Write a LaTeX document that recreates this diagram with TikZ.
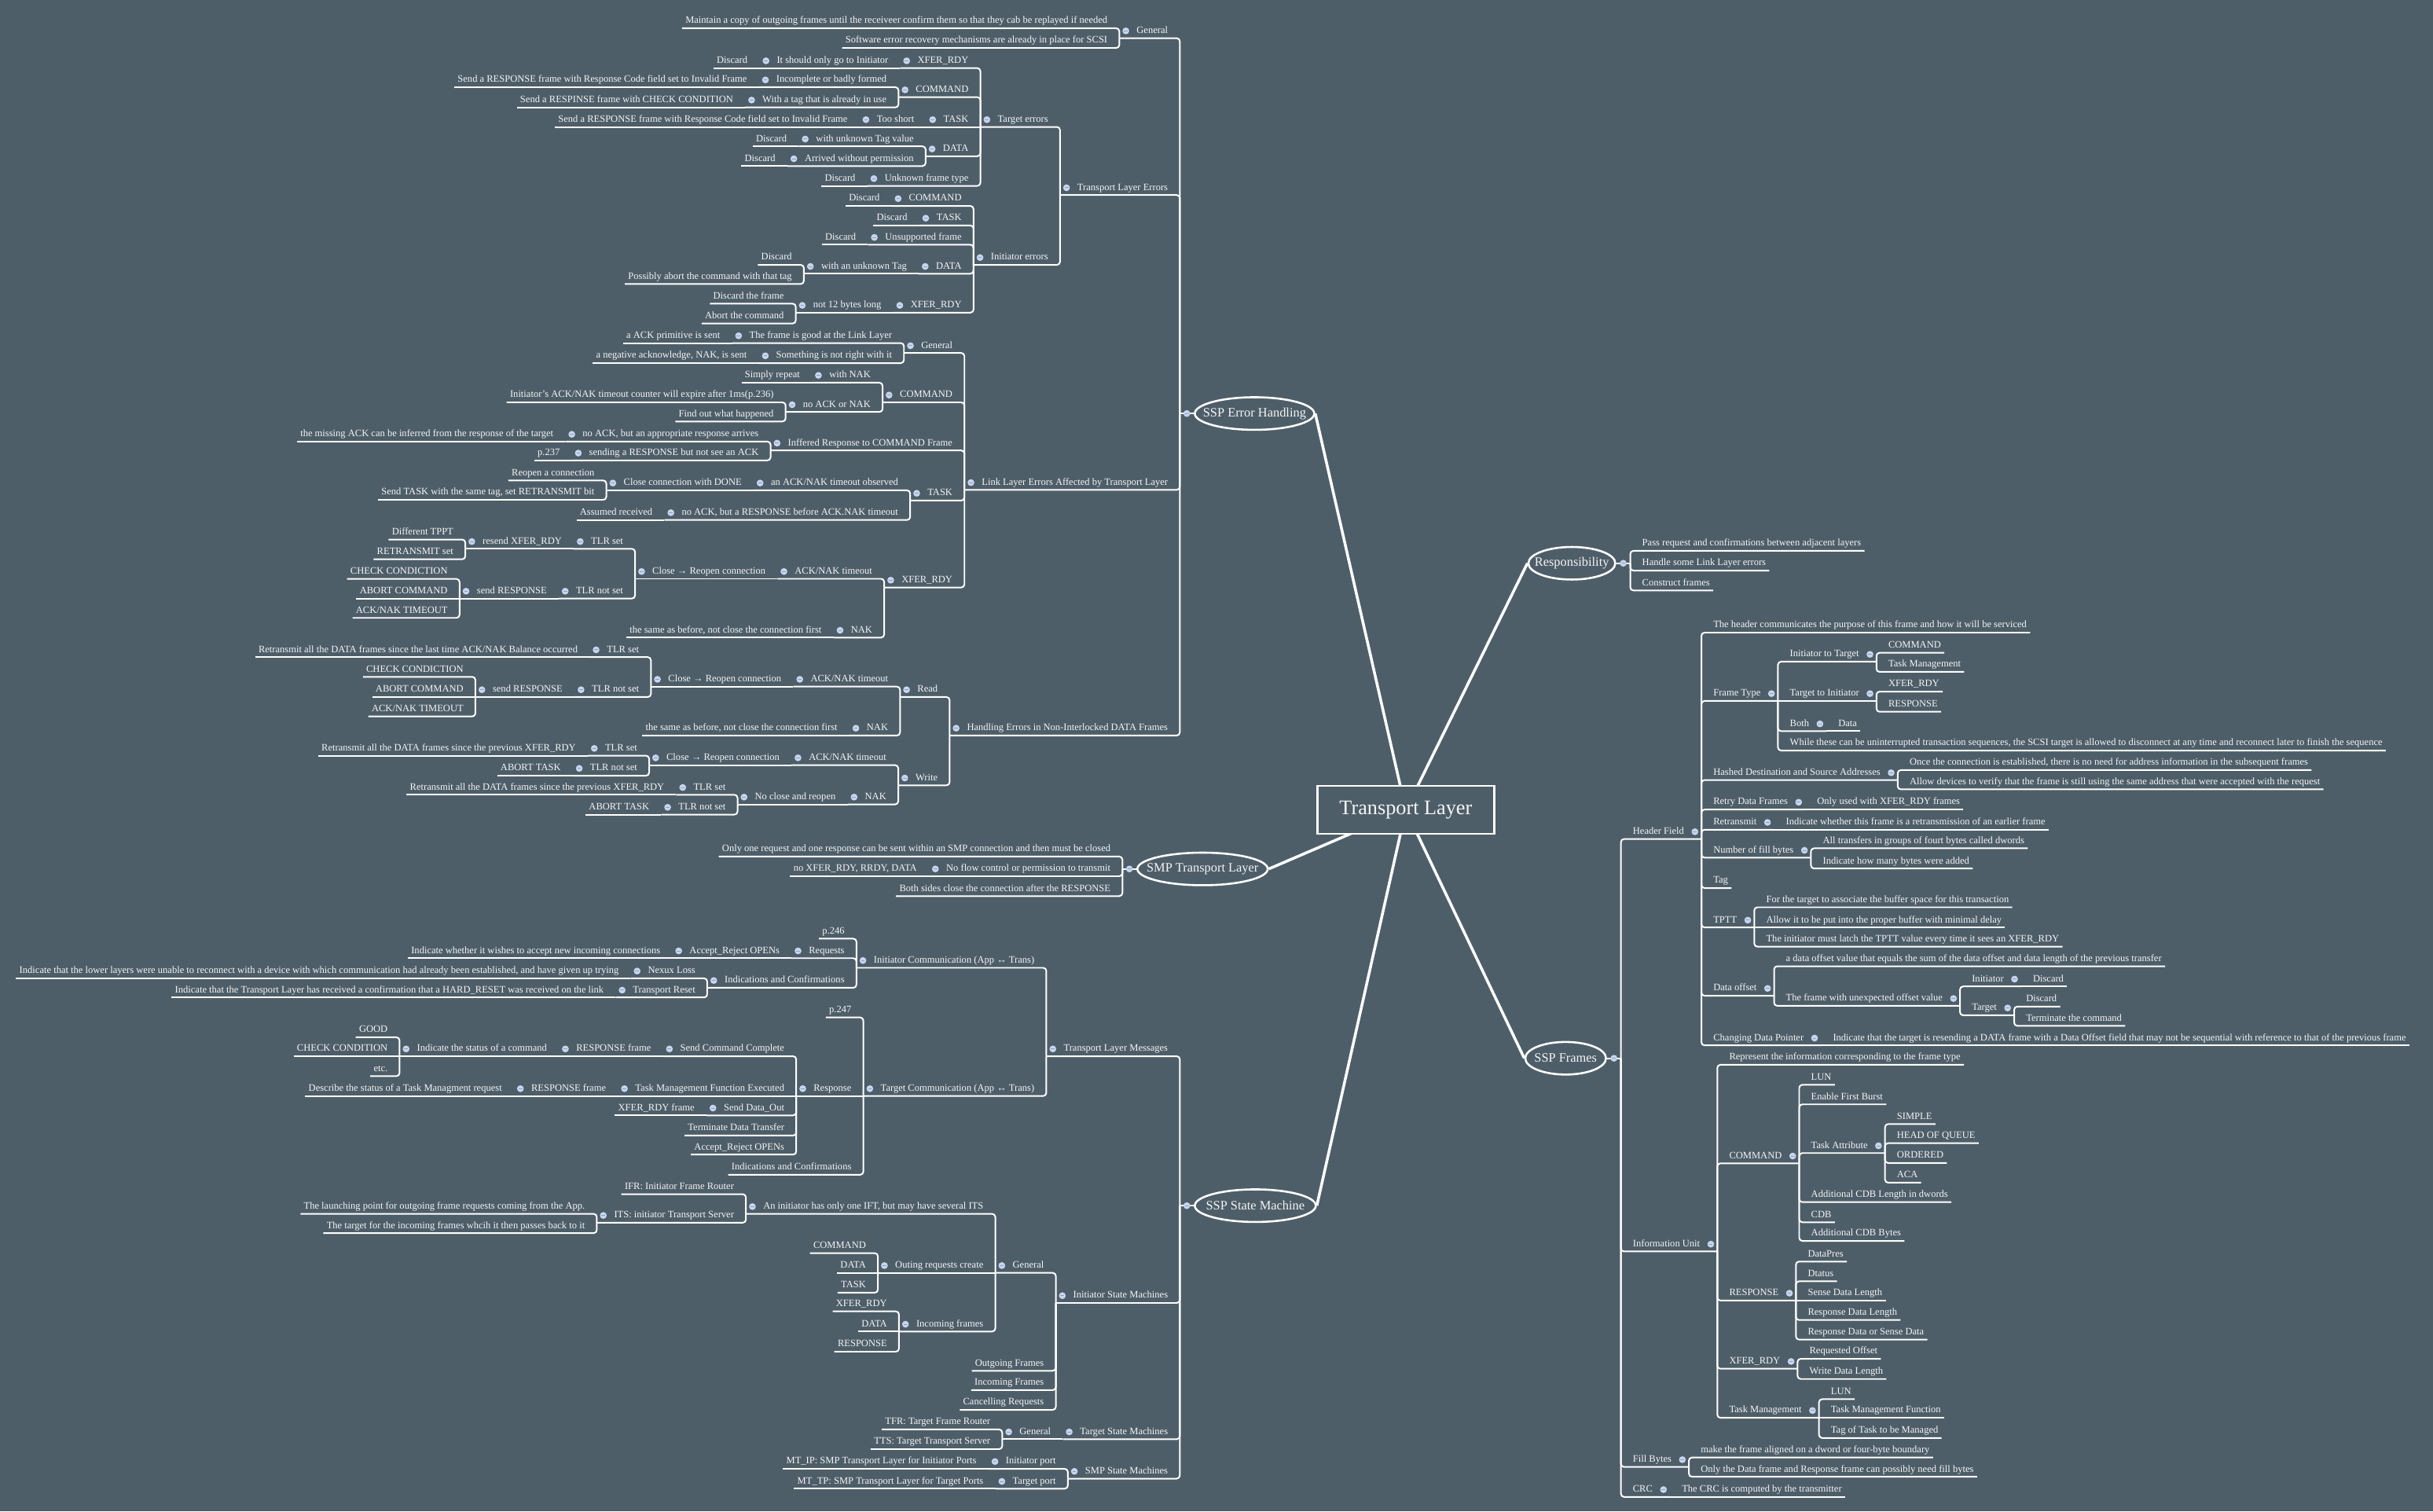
\documentclass[tikz,border=0pt]{standalone}
\usepackage{fontspec}
\setmainfont{Liberation Serif}
\usetikzlibrary{shapes.geometric}
\definecolor{slate}{HTML}{4E5E69}
\definecolor{bubble}{HTML}{C8D5EE}
\definecolor{bubbleink}{HTML}{8CA2C2}
\definecolor{paper}{HTML}{F4F4F4}
\newcommand{\leaffont}{\fontsize{6.35}{7}\selectfont}
\newcommand{\mmdot}[1]{\fill[bubble] (#1) circle (2.2pt); \draw[bubbleink,line width=.45pt] (#1) ++(-1.2pt,0) -- ++(2.4pt,0);}
\tikzset{
  txt/.style={font=\leaffont,text=paper,fill=slate,inner xsep=2pt,inner ysep=1.5pt,text height=4.6pt,text depth=1.4pt},
  tl/.style={txt,anchor=east,xshift=-5.5pt},
  tlp/.style={tl,execute at begin node={\hspace*{9pt}},path picture={\mmdot{[xshift=4pt]path picture bounding box.west}}},
  tr/.style={txt,anchor=west,xshift=5.5pt},
  trp/.style={tr,execute at end node={\hspace*{9pt}},path picture={\mmdot{[xshift=-4pt]path picture bounding box.east}}},
  branch/.style={ellipse,draw=white,fill=slate,line width=1.3pt,inner sep=0pt,minimum height=21pt,font=\fontsize{8.3}{10}\selectfont,text=paper},
  core/.style={draw=white,fill=slate,line width=1.2pt,minimum width=114pt,minimum height=31pt,inner sep=0pt,font=\fontsize{13.3}{16}\selectfont,text=paper},
  ln/.style={draw=white,line width=1pt,rounded corners=2pt},
  trunk/.style={draw=white,line width=1.8pt},
}

\begin{document}
\begin{tikzpicture}[x=1pt,y=-1pt]
  \useasboundingbox (0,0) rectangle (1568,974);
  \fill[slate] (0,0) rectangle (1568,974);
  \coordinate (Tc) at (906,522);
  \node[branch,minimum width=77pt] (E) at (808.5,266.5) {\makebox[0pt]{SSP Error Handling}};
  \node[branch,minimum width=84pt] (M) at (775,560) {\makebox[0pt]{SMP Transport Layer}};
  \node[branch,minimum width=78pt] (S) at (809,777) {\makebox[0pt]{SSP State Machine}};
  \node[branch,minimum width=56pt] (R) at (1013,363) {\makebox[0pt]{Responsibility}};
  \node[branch,minimum width=52pt] (F) at (1009,682) {\makebox[0pt]{SSP Frames}};
  \foreach \e/\a in {E/east,M/east,S/east,R/west,F/west}
    \draw[trunk] (Tc) -- (\e.\a);
  \node[core] (T) at (Tc) {Transport Layer};
  \coordinate (Eb) at ([xshift=-9pt]E.west);
  \coordinate (Mb) at ([xshift=-9pt]M.west);
  \coordinate (Sb) at ([xshift=-9pt]S.west);
  \coordinate (Rb) at ([xshift=9pt]R.east);
  \coordinate (Fb) at ([xshift=9pt]F.east);

  \node[tlp] (E1) at (Eb |- 0,19.9) {General};
  \node[tl] (E1a) at (E1.west |- 0,13.5) {Maintain a copy of outgoing frames until the receiveer confirm them so that they cab be replayed if needed};
  \node[tl] (E1b) at (E1.west |- 0,26.2) {Software error recovery mechanisms are already in place for SCSI};
  \node[tlp] (E2) at (Eb |- 0,121) {Transport Layer Errors};
  \node[tlp] (E2a) at (E2.west |- 0,77.1) {Target errors};
  \node[tlp] (E2a1) at (E2a.west |- 0,39.2) {XFER\_RDY};
  \node[tlp] (E2a1a) at (E2a1.west |- 0,39.2) {It should only go to Initiator};
  \node[tl] (E2a1a1) at (E2a1a.west |- 0,39.2) {Discard};
  \node[tlp] (E2a2) at (E2a.west |- 0,57.9) {COMMAND};
  \node[tlp] (E2a2a) at (E2a2.west |- 0,51.5) {Incomplete or badly formed};
  \node[tl] (E2a2a1) at (E2a2a.west |- 0,51.5) {Send a RESPONSE frame with Response Code field set to Invalid Frame};
  \node[tlp] (E2a2b) at (E2a2.west |- 0,64.5) {With a tag that is already in use};
  \node[tl] (E2a2b1) at (E2a2b.west |- 0,64.5) {Send a RESPINSE frame with CHECK CONDITION};
  \node[tlp] (E2a3) at (E2a.west |- 0,77.1) {TASK};
  \node[tlp] (E2a3a) at (E2a3.west |- 0,77.1) {Too short};
  \node[tl] (E2a3a1) at (E2a3a.west |- 0,77.1) {Send a RESPONSE frame with Response Code field set to Invalid Frame};
  \node[tlp] (E2a4) at (E2a.west |- 0,96) {DATA};
  \node[tlp] (E2a4a) at (E2a4.west |- 0,89.6) {with unknown Tag value};
  \node[tl] (E2a4a1) at (E2a4a.west |- 0,89.6) {Discard};
  \node[tlp] (E2a4b) at (E2a4.west |- 0,102.3) {Arrived without permission};
  \node[tl] (E2a4b1) at (E2a4b.west |- 0,102.3) {Discard};
  \node[tlp] (E2a5) at (E2a.west |- 0,115.1) {Unknown frame type};
  \node[tl] (E2a5a) at (E2a5.west |- 0,115.1) {Discard};
  \node[tlp] (E2b) at (E2.west |- 0,166) {Initiator errors};
  \node[tlp] (E2b1) at (E2b.west |- 0,128) {COMMAND};
  \node[tl] (E2b1a) at (E2b1.west |- 0,128) {Discard};
  \node[tlp] (E2b2) at (E2b.west |- 0,140.6) {TASK};
  \node[tl] (E2b2a) at (E2b2.west |- 0,140.6) {Discard};
  \node[tlp] (E2b3) at (E2b.west |- 0,153) {Unsupported frame};
  \node[tl] (E2b3a) at (E2b3.west |- 0,153) {Discard};
  \node[tlp] (E2b4) at (E2b.west |- 0,171.7) {DATA};
  \node[tlp] (E2b4a) at (E2b4.west |- 0,171.7) {with an unknown Tag};
  \node[tl] (E2b4a1) at (E2b4a.west |- 0,166) {Discard};
  \node[tl] (E2b4a2) at (E2b4a.west |- 0,178.3) {Possibly abort the command with that tag};
  \node[tlp] (E2b5) at (E2b.west |- 0,196.8) {XFER\_RDY};
  \node[tlp] (E2b5a) at (E2b5.west |- 0,196.8) {not 12 bytes long};
  \node[tl] (E2b5a1) at (E2b5a.west |- 0,191) {Discard the frame};
  \node[tl] (E2b5a2) at (E2b5a.west |- 0,203.8) {Abort the command};
  \node[tlp] (E3) at (Eb |- 0,311) {Link Layer Errors Affected by Transport Layer};
  \node[tlp] (E3a) at (E3.west |- 0,222.8) {General};
  \node[tlp] (E3a1) at (E3a.west |- 0,216.4) {The frame is good at the Link Layer};
  \node[tl] (E3a1a) at (E3a1.west |- 0,216.4) {a ACK primitive is sent};
  \node[tlp] (E3a2) at (E3a.west |- 0,229.3) {Something is not right with it};
  \node[tl] (E3a2a) at (E3a2.west |- 0,229.3) {a negative acknowledge, NAK, is sent};
  \node[tlp] (E3b) at (E3.west |- 0,254.6) {COMMAND};
  \node[tlp] (E3b1) at (E3b.west |- 0,241.9) {with NAK};
  \node[tl] (E3b1a) at (E3b1.west |- 0,241.9) {Simply repeat};
  \node[tlp] (E3b2) at (E3b.west |- 0,260.8) {no ACK or NAK};
  \node[tl] (E3b2a) at (E3b2.west |- 0,254.6) {Initiator's ACK/NAK timeout counter will expire after 1ms(p.236)};
  \node[tl] (E3b2b) at (E3b2.west |- 0,266.9) {Find out what happened};
  \node[tlp] (E3c) at (E3.west |- 0,285.6) {Inffered Response to COMMAND Frame};
  \node[tlp] (E3c1) at (E3c.west |- 0,279.9) {no ACK, but an appropriate response arrives};
  \node[tl] (E3c1a) at (E3c1.west |- 0,279.9) {the missing ACK can be inferred from the response of the target};
  \node[tlp] (E3c2) at (E3c.west |- 0,292) {sending a RESPONSE but not see an ACK};
  \node[tl] (E3c2a) at (E3c2.west |- 0,292) {p.237};
  \node[tlp] (E3d) at (E3.west |- 0,317.9) {TASK};
  \node[tlp] (E3d1) at (E3d.west |- 0,311.3) {an ACK/NAK timeout observed};
  \node[tlp] (E3d1a) at (E3d1.west |- 0,311.3) {Close connection with DONE};
  \node[tl] (E3d1a1) at (E3d1a.west |- 0,304.9) {Reopen a connection};
  \node[tl] (E3d1a2) at (E3d1a.west |- 0,317.4) {Send TASK with the same tag, set RETRANSMIT bit};
  \node[tlp] (E3d2) at (E3d.west |- 0,330.4) {no ACK, but a RESPONSE before ACK.NAK timeout};
  \node[tl] (E3d2a) at (E3d2.west |- 0,330.4) {Assumed received};
  \node[tlp] (E3e) at (E3.west |- 0,373.9) {XFER\_RDY};
  \node[tlp] (E3e1) at (E3e.west |- 0,368.3) {ACK/NAK timeout};
  \node[tlp] (E3e1a) at (E3e1.west |- 0,368.3) {Close → Reopen connection};
  \node[tlp] (E3e1a1) at (E3e1a.west |- 0,349) {TLR set};
  \node[tlp] (E3e1a1a) at (E3e1a1.west |- 0,349) {resend XFER\_RDY};
  \node[tl] (E3e1a1a1) at (E3e1a1a.west |- 0,343) {Different TPPT};
  \node[tl] (E3e1a1a2) at (E3e1a1a.west |- 0,355.7) {RETRANSMIT set};
  \node[tlp] (E3e1a2) at (E3e1a.west |- 0,381) {TLR not set};
  \node[tlp] (E3e1a2a) at (E3e1a2.west |- 0,381) {send RESPONSE};
  \node[tl] (E3e1a2a1) at (E3e1a2a.west |- 0,368.4) {CHECK CONDICTION};
  \node[tl] (E3e1a2a2) at (E3e1a2a.west |- 0,381) {ABORT COMMAND};
  \node[tl] (E3e1a2a3) at (E3e1a2a.west |- 0,393.5) {ACK/NAK TIMEOUT};
  \node[tlp] (E3e2) at (E3e.west |- 0,406.2) {NAK};
  \node[tl] (E3e2a) at (E3e2.west |- 0,406.2) {the same as before, not close the connection first};
  \node[tlp] (E4) at (Eb |- 0,469.3) {Handling Errors in Non-Interlocked DATA Frames};
  \node[tlp] (E4a) at (E4.west |- 0,444.5) {Read};
  \node[tlp] (E4a1) at (E4a.west |- 0,437.8) {ACK/NAK timeout};
  \node[tlp] (E4a1a) at (E4a1.west |- 0,437.8) {Close → Reopen connection};
  \node[tlp] (E4a1a1) at (E4a1a.west |- 0,418.8) {TLR set};
  \node[tl] (E4a1a1a) at (E4a1a1.west |- 0,418.8) {Retransmit all the DATA frames since the last time ACK/NAK Balance occurred};
  \node[tlp] (E4a1a2) at (E4a1a.west |- 0,444.5) {TLR not set};
  \node[tlp] (E4a1a2a) at (E4a1a2.west |- 0,444.5) {send RESPONSE};
  \node[tl] (E4a1a2a1) at (E4a1a2a.west |- 0,431.5) {CHECK CONDICTION};
  \node[tl] (E4a1a2a2) at (E4a1a2a.west |- 0,444.5) {ABORT COMMAND};
  \node[tl] (E4a1a2a3) at (E4a1a2a.west |- 0,457) {ACK/NAK TIMEOUT};
  \node[tlp] (E4a2) at (E4a.west |- 0,469.3) {NAK};
  \node[tl] (E4a2a) at (E4a2.west |- 0,469.3) {the same as before, not close the connection first};
  \node[tlp] (E4b) at (E4.west |- 0,501.4) {Write};
  \node[tlp] (E4b1) at (E4b.west |- 0,488.4) {ACK/NAK timeout};
  \node[tlp] (E4b1a) at (E4b1.west |- 0,488.4) {Close → Reopen connection};
  \node[tlp] (E4b1a1) at (E4b1a.west |- 0,482.3) {TLR set};
  \node[tl] (E4b1a1a) at (E4b1a1.west |- 0,482.3) {Retransmit all the DATA frames since the previous XFER\_RDY};
  \node[tlp] (E4b1a2) at (E4b1a.west |- 0,495.2) {TLR not set};
  \node[tl] (E4b1a2a) at (E4b1a2.west |- 0,495.2) {ABORT TASK};
  \node[tlp] (E4b2) at (E4b.west |- 0,513.7) {NAK};
  \node[tlp] (E4b2a) at (E4b2.west |- 0,513.7) {No close and reopen};
  \node[tlp] (E4b2a1) at (E4b2a.west |- 0,507.5) {TLR set};
  \node[tl] (E4b2a1a) at (E4b2a1.west |- 0,507.5) {Retransmit all the DATA frames since the previous XFER\_RDY};
  \node[tlp] (E4b2a2) at (E4b2a.west |- 0,520.3) {TLR not set};
  \node[tl] (E4b2a2a) at (E4b2a2.west |- 0,520.3) {ABORT TASK};

  \node[tl] (M1) at (Mb |- 0,547.3) {Only one request and one response can be sent within an SMP connection and then must be closed};
  \node[tlp] (M2) at (Mb |- 0,560) {No flow control or permission to transmit};
  \node[tl] (M2a) at (M2.west |- 0,560) {no XFER\_RDY, RRDY, DATA};
  \node[tl] (M3) at (Mb |- 0,572.8) {Both sides close the connection after the RESPONSE};

  \node[tlp] (S1) at (Sb |- 0,676) {Transport Layer Messages};
  \node[tlp] (S1a) at (S1.west |- 0,619) {Initiator Communication (App ↔ Trans)};
  \node[tl] (S1a1) at (S1a.west |- 0,600.2) {p.246};
  \node[tlp] (S1a2) at (S1a.west |- 0,612.8) {Requests};
  \node[tlp] (S1a2a) at (S1a2.west |- 0,612.8) {Accept\_Reject OPENs};
  \node[tl] (S1a2a1) at (S1a2a.west |- 0,612.8) {Indicate whether it wishes to accept new incoming connections};
  \node[tlp] (S1a3) at (S1a.west |- 0,631.9) {Indications and Confirmations};
  \node[tlp] (S1a3a) at (S1a3.west |- 0,625.8) {Nexux Loss};
  \node[tl] (S1a3a1) at (S1a3a.west |- 0,625.8) {Indicate that the lower layers were unable to reconnect with a device with which communication had already been established, and have given up trying};
  \node[tlp] (S1a3b) at (S1a3.west |- 0,638.1) {Transport Reset};
  \node[tl] (S1a3b1) at (S1a3b.west |- 0,638.1) {Indicate that the Transport Layer has received a confirmation that a HARD\_RESET was received on the link};
  \node[tlp] (S1b) at (S1.west |- 0,701.6) {Target Communication (App ↔ Trans)};
  \node[tl] (S1b1) at (S1b.west |- 0,651) {p.247};
  \node[tlp] (S1b2) at (S1b.west |- 0,701.6) {Response};
  \node[tlp] (S1b2a) at (S1b2.west |- 0,676) {Send Command Complete};
  \node[tlp] (S1b2a1) at (S1b2a.west |- 0,676) {RESPONSE frame};
  \node[tlp] (S1b2a1a) at (S1b2a1.west |- 0,676) {Indicate the status of a command};
  \node[tl] (S1b2a1a1) at (S1b2a1a.west |- 0,663.8) {GOOD};
  \node[tl] (S1b2a1a2) at (S1b2a1a.west |- 0,676) {CHECK CONDITION};
  \node[tl] (S1b2a1a3) at (S1b2a1a.west |- 0,688.8) {etc.};
  \node[tlp] (S1b2b) at (S1b2.west |- 0,701.6) {Task Management Function Executed};
  \node[tlp] (S1b2b1) at (S1b2b.west |- 0,701.6) {RESPONSE frame};
  \node[tl] (S1b2b1a) at (S1b2b1.west |- 0,701.6) {Describe the status of a Task Managment request};
  \node[tlp] (S1b2c) at (S1b2.west |- 0,714.1) {Send Data\_Out};
  \node[tl] (S1b2c1) at (S1b2c.west |- 0,714.1) {XFER\_RDY frame};
  \node[tl] (S1b2d) at (S1b2.west |- 0,727.1) {Terminate Data Transfer};
  \node[tl] (S1b2e) at (S1b2.west |- 0,739.4) {Accept\_Reject OPENs};
  \node[tl] (S1b3) at (S1b.west |- 0,752.4) {Indications and Confirmations};
  \node[tlp] (S2) at (Sb |- 0,835) {Initiator State Machines};
  \node[tlp] (S2a) at (S2.west |- 0,815.6) {General};
  \node[tlp] (S2a1) at (S2a.west |- 0,777.6) {An initiator has only one IFT, but may have several ITS};
  \node[tl] (S2a1a) at (S2a1.west |- 0,764.9) {IFR: Initiator Frame Router};
  \node[tlp] (S2a1b) at (S2a1.west |- 0,783.3) {ITS: initiator Transport Server};
  \node[tl] (S2a1b1) at (S2a1b.west |- 0,777.6) {The launching point for outgoing frame requests coming from the App.};
  \node[tl] (S2a1b2) at (S2a1b.west |- 0,790) {The target for the incoming frames whcih it then passes back to it};
  \node[tlp] (S2a2) at (S2a.west |- 0,815.6) {Outing requests create};
  \node[tl] (S2a2a) at (S2a2.west |- 0,802.9) {COMMAND};
  \node[tl] (S2a2b) at (S2a2.west |- 0,815.6) {DATA};
  \node[tl] (S2a2c) at (S2a2.west |- 0,828.4) {TASK};
  \node[tlp] (S2a3) at (S2a.west |- 0,853.4) {Incoming frames};
  \node[tl] (S2a3a) at (S2a3.west |- 0,840.4) {XFER\_RDY};
  \node[tl] (S2a3b) at (S2a3.west |- 0,853.4) {DATA};
  \node[tl] (S2a3c) at (S2a3.west |- 0,866.4) {RESPONSE};
  \node[tl] (S2b) at (S2.west |- 0,878.7) {Outgoing Frames};
  \node[tl] (S2c) at (S2.west |- 0,891.2) {Incoming Frames};
  \node[tl] (S2d) at (S2.west |- 0,903.9) {Cancelling Requests};
  \node[tlp] (S3) at (Sb |- 0,922.8) {Target State Machines};
  \node[tlp] (S3a) at (S3.west |- 0,922.8) {General};
  \node[tl] (S3a1) at (S3a.west |- 0,916.5) {TFR: Target Frame Router};
  \node[tl] (S3a2) at (S3a.west |- 0,929.2) {TTS: Target Transport Server};
  \node[tlp] (S4) at (Sb |- 0,948.2) {SMP State Machines};
  \node[tlp] (S4a) at (S4.west |- 0,941.9) {Initiator port};
  \node[tl] (S4a1) at (S4a.west |- 0,941.9) {MT\_IP: SMP Transport Layer for Initiator Ports};
  \node[tlp] (S4b) at (S4.west |- 0,954.7) {Target port};
  \node[tl] (S4b1) at (S4b.west |- 0,954.7) {MT\_TP: SMP Transport Layer for Target Ports};

  \node[tr] (R1) at (Rb |- 0,350.3) {Pass request and confirmations between adjacent layers};
  \node[tr] (R2) at (Rb |- 0,363) {Handle some Link Layer errors};
  \node[tr] (R3) at (Rb |- 0,375.8) {Construct frames};

  \node[trp] (F1) at (Fb |- 0,536) {Header Field};
  \node[tr] (F1a) at (F1.east |- 0,403) {The header communicates the purpose of this frame and how it will be serviced};
  \node[trp] (F1b) at (F1.east |- 0,447) {Frame Type};
  \node[trp] (F1b1) at (F1b.east |- 0,421.7) {Initiator to Target};
  \node[tr] (F1b1a) at (F1b1.east |- 0,416) {COMMAND};
  \node[tr] (F1b1b) at (F1b1.east |- 0,428.3) {Task Management};
  \node[trp] (F1b2) at (F1b.east |- 0,447) {Target to Initiator};
  \node[tr] (F1b2a) at (F1b2.east |- 0,441) {XFER\_RDY};
  \node[tr] (F1b2b) at (F1b2.east |- 0,454) {RESPONSE};
  \node[trp] (F1b3) at (F1b.east |- 0,466.5) {Both};
  \node[tr] (F1b3a) at (F1b3.east |- 0,466.5) {Data};
  \node[tr] (F1b4) at (F1b.east |- 0,479) {While these can be uninterrupted transaction sequences, the SCSI target is allowed to disconnect at any time and reconnect later to finish the sequence};
  \node[trp] (F1c) at (F1.east |- 0,498) {Hashed Destination and Source Addresses};
  \node[tr] (F1c1) at (F1c.east |- 0,491.6) {Once the connection is established, there is no need for address information in the subsequent frames};
  \node[tr] (F1c2) at (F1c.east |- 0,504) {Allow devices to verify that the frame is still using the same address that were accepted with the request};
  \node[trp] (F1d) at (F1.east |- 0,517) {Retry Data Frames};
  \node[tr] (F1d1) at (F1d.east |- 0,517) {Only used with XFER\_RDY frames};
  \node[trp] (F1e) at (F1.east |- 0,530) {Retransmit};
  \node[tr] (F1e1) at (F1e.east |- 0,530) {Indicate whether this frame is a retransmission of an earlier frame};
  \node[trp] (F1f) at (F1.east |- 0,548) {Number of fill bytes};
  \node[tr] (F1f1) at (F1f.east |- 0,542) {All transfers in groups of fourt bytes called dwords};
  \node[tr] (F1f2) at (F1f.east |- 0,555) {Indicate how many bytes were added};
  \node[tr] (F1g) at (F1.east |- 0,567.6) {Tag};
  \node[trp] (F1h) at (F1.east |- 0,593) {TPTT};
  \node[tr] (F1h1) at (F1h.east |- 0,580) {For the target to associate the buffer space for this transaction};
  \node[tr] (F1h2) at (F1h.east |- 0,593) {Allow it to be put into the proper buffer with minimal delay};
  \node[tr] (F1h3) at (F1h.east |- 0,605.4) {The initiator must latch the TPTT value every time it sees an XFER\_RDY};
  \node[trp] (F1i) at (F1.east |- 0,637) {Data offset};
  \node[tr] (F1i1) at (F1i.east |- 0,618) {a data offset value that equals the sum of the data offset and data length of the previous transfer};
  \node[trp] (F1i2) at (F1i.east |- 0,643.5) {The frame with unexpected offset value};
  \node[trp] (F1i2a) at (F1i2.east |- 0,631) {Initiator};
  \node[tr] (F1i2a1) at (F1i2a.east |- 0,631) {Discard};
  \node[trp] (F1i2b) at (F1i2.east |- 0,649.6) {Target};
  \node[tr] (F1i2b1) at (F1i2b.east |- 0,644) {Discard};
  \node[tr] (F1i2b2) at (F1i2b.east |- 0,656.4) {Terminate the command};
  \node[trp] (F1j) at (F1.east |- 0,669) {Changing Data Pointer};
  \node[tr] (F1j1) at (F1j.east |- 0,669) {Indicate that the target is resending a DATA frame with a Data Offset field that may not be sequential with reference to that of the previous frame};
  \node[trp] (F2) at (Fb |- 0,801.8) {Information Unit};
  \node[tr] (F2a) at (F2.east |- 0,681.5) {Represent the information corresponding to the frame type};
  \node[trp] (F2b) at (F2.east |- 0,745) {COMMAND};
  \node[tr] (F2b1) at (F2b.east |- 0,694.4) {LUN};
  \node[tr] (F2b2) at (F2b.east |- 0,707) {Enable First Burst};
  \node[trp] (F2b3) at (F2b.east |- 0,738.4) {Task Attribute};
  \node[tr] (F2b3a) at (F2b3.east |- 0,719.7) {SIMPLE};
  \node[tr] (F2b3b) at (F2b3.east |- 0,732) {HEAD OF QUEUE};
  \node[tr] (F2b3c) at (F2b3.east |- 0,744.8) {ORDERED};
  \node[tr] (F2b3d) at (F2b3.east |- 0,757.5) {ACA};
  \node[tr] (F2b4) at (F2b.east |- 0,770) {Additional CDB Length in dwords};
  \node[tr] (F2b5) at (F2b.east |- 0,783) {CDB};
  \node[tr] (F2b6) at (F2b.east |- 0,795) {Additional CDB Bytes};
  \node[trp] (F2c) at (F2.east |- 0,833.4) {RESPONSE};
  \node[tr] (F2c1) at (F2c.east |- 0,808.3) {DataPres};
  \node[tr] (F2c2) at (F2c.east |- 0,821) {Dtatus};
  \node[tr] (F2c3) at (F2c.east |- 0,833.4) {Sense Data Length};
  \node[tr] (F2c4) at (F2c.east |- 0,846) {Response Data Length};
  \node[tr] (F2c5) at (F2c.east |- 0,858.6) {Response Data or Sense Data};
  \node[trp] (F2d) at (F2.east |- 0,877.4) {XFER\_RDY};
  \node[tr] (F2d1) at (F2d.east |- 0,871) {Requested Offset};
  \node[tr] (F2d2) at (F2d.east |- 0,884) {Write Data Length};
  \node[trp] (F2e) at (F2.east |- 0,909) {Task Management};
  \node[tr] (F2e1) at (F2e.east |- 0,897) {LUN};
  \node[tr] (F2e2) at (F2e.east |- 0,909) {Task Management Function};
  \node[tr] (F2e3) at (F2e.east |- 0,922) {Tag of Task to be Managed};
  \node[trp] (F3) at (Fb |- 0,940.7) {Fill Bytes};
  \node[tr] (F3a) at (F3.east |- 0,934.6) {make the frame aligned on a dword or four-byte boundary};
  \node[tr] (F3b) at (F3.east |- 0,947) {Only the Data frame and Response frame can possibly need fill bytes};
  \node[trp] (F4) at (Fb |- 0,960) {CRC};
  \node[tr] (F4a) at (F4.east |- 0,960) {The CRC is computed by the transmitter};

  \foreach \c/\p in {E1/Eb,E2/Eb,E3/Eb,E4/Eb,M1/Mb,M2/Mb,M3/Mb,S1/Sb,S2/Sb,S3/Sb,S4/Sb}
    \draw[ln] (\c.south west) -| (\p);
  \foreach \c/\p in {E1a/E1,E1b/E1,E2a/E2,E2b/E2,E2a1/E2a,E2a2/E2a,E2a4/E2a,E2a5/E2a,E2a2a/E2a2,E2a2b/E2a2,
      E2a4a/E2a4,E2a4b/E2a4,E2b1/E2b,E2b2/E2b,E2b3/E2b,E2b4/E2b,E2b5/E2b,E2b4a1/E2b4a,E2b4a2/E2b4a,E2b5a1/E2b5a,E2b5a2/E2b5a,
      E3a/E3,E3b/E3,E3c/E3,E3d/E3,E3e/E3,E3a1/E3a,E3a2/E3a,E3b1/E3b,E3b2/E3b,E3b2a/E3b2,E3b2b/E3b2,E3c1/E3c,E3c2/E3c,
      E3d1/E3d,E3d2/E3d,E3d1a1/E3d1a,E3d1a2/E3d1a,E3e1/E3e,E3e2/E3e,E3e1a1/E3e1a,E3e1a2/E3e1a,E3e1a1a1/E3e1a1a,
      E3e1a1a2/E3e1a1a,E3e1a2a1/E3e1a2a,E3e1a2a3/E3e1a2a,E4a/E4,E4b/E4,E4a1/E4a,E4a2/E4a,E4a1a1/E4a1a,E4a1a2/E4a1a,
      E4a1a2a1/E4a1a2a,E4a1a2a3/E4a1a2a,E4b1/E4b,E4b2/E4b,E4b1a1/E4b1a,E4b1a2/E4b1a,E4b2a1/E4b2a,E4b2a2/E4b2a,
      S1a/S1,S1b/S1,S1a1/S1a,S1a2/S1a,S1a3/S1a,S1a3a/S1a3,S1a3b/S1a3,S1b1/S1b,S1b3/S1b,S1b2a/S1b2,S1b2c/S1b2,
      S1b2d/S1b2,S1b2e/S1b2,S1b2a1a1/S1b2a1a,S1b2a1a3/S1b2a1a,S2a/S2,S2b/S2,S2c/S2,S2d/S2,S2a1/S2a,S2a3/S2a,
      S2a1a/S2a1,S2a1b/S2a1,S2a1b1/S2a1b,S2a1b2/S2a1b,S2a2a/S2a2,S2a2c/S2a2,S2a3a/S2a3,S2a3c/S2a3,S3a1/S3a,S3a2/S3a,
      S4a/S4,S4b/S4}
    \draw[ln] (\c.south west) -| (\p.south west);
  \foreach \c/\p in {E2a3/E2a,E2a1a/E2a1,E2a1a1/E2a1a,E2a2a1/E2a2a,E2a2b1/E2a2b,E2a3a/E2a3,E2a3a1/E2a3a,E2a4a1/E2a4a,
      E2a4b1/E2a4b,E2a5a/E2a5,E2b1a/E2b1,E2b2a/E2b2,E2b3a/E2b3,E2b4a/E2b4,E2b5a/E2b5,E3a1a/E3a1,E3a2a/E3a2,E3b1a/E3b1,
      E3c1a/E3c1,E3c2a/E3c2,E3d1a/E3d1,E3d2a/E3d2,E3e1a/E3e1,E3e1a1a/E3e1a1,E3e1a2a/E3e1a2,E3e1a2a2/E3e1a2a,E3e2a/E3e2,
      E4a1a/E4a1,E4a1a1a/E4a1a1,E4a1a2a/E4a1a2,E4a1a2a2/E4a1a2a,E4a2a/E4a2,E4b1a/E4b1,E4b1a1a/E4b1a1,E4b1a2a/E4b1a2,
      E4b2a/E4b2,E4b2a1a/E4b2a1,E4b2a2a/E4b2a2,M2a/M2,S1a2a/S1a2,S1a2a1/S1a2a,S1a3a1/S1a3a,S1a3b1/S1a3b,S1b2/S1b,
      S1b2a1/S1b2a,S1b2a1a/S1b2a1,S1b2a1a2/S1b2a1a,S1b2b/S1b2,S1b2b1/S1b2b,S1b2b1a/S1b2b1,S1b2c1/S1b2c,S2a2/S2a,
      S2a2b/S2a2,S2a3b/S2a3,S3a/S3,S4a1/S4a,S4b1/S4b}
    \draw[ln] (\c.south west) -- (\p.south west);
  \foreach \c/\p in {R1/Rb,R2/Rb,R3/Rb,F1/Fb,F2/Fb,F3/Fb,F4/Fb}
    \draw[ln] (\c.south east) -| (\p);
  \foreach \c/\p in {F1a/F1,F1b/F1,F1c/F1,F1d/F1,F1e/F1,F1f/F1,F1g/F1,F1h/F1,F1i/F1,F1j/F1,F1b1/F1b,F1b3/F1b,F1b4/F1b,
      F1b1a/F1b1,F1b1b/F1b1,F1b2a/F1b2,F1b2b/F1b2,F1c1/F1c,F1c2/F1c,F1f1/F1f,F1f2/F1f,F1h1/F1h,F1h3/F1h,F1i1/F1i,
      F1i2/F1i,F1i2a/F1i2,F1i2b/F1i2,F1i2b1/F1i2b,F1i2b2/F1i2b,F2a/F2,F2b/F2,F2c/F2,F2d/F2,F2e/F2,F2b1/F2b,F2b2/F2b,
      F2b3/F2b,F2b4/F2b,F2b5/F2b,F2b6/F2b,F2b3a/F2b3,F2b3b/F2b3,F2b3c/F2b3,F2b3d/F2b3,F2c1/F2c,F2c2/F2c,F2c4/F2c,
      F2c5/F2c,F2d1/F2d,F2d2/F2d,F2e1/F2e,F2e3/F2e,F3a/F3,F3b/F3}
    \draw[ln] (\c.south east) -| (\p.south east);
  \foreach \c/\p in {F1b2/F1b,F1b3a/F1b3,F1d1/F1d,F1e1/F1e,F1h2/F1h,F1i2a1/F1i2a,F1j1/F1j,F2c3/F2c,F2e2/F2e,F4a/F4}
    \draw[ln] (\c.south east) -- (\p.south east);

  \foreach \b/\e in {Eb/E,Mb/M,Sb/S}
    \draw[ln] (\b) -- (\e.west);
  \foreach \b/\e in {Rb/R,Fb/F}
    \draw[ln] (\b) -- (\e.east);
  \mmdot{[xshift=4.5pt]Eb}
  \mmdot{[xshift=4.5pt]Mb}
  \mmdot{[xshift=4.5pt]Sb}
  \mmdot{[xshift=-4.5pt]Rb}
  \mmdot{[xshift=-4.5pt]Fb}
\end{tikzpicture}
\end{document}
